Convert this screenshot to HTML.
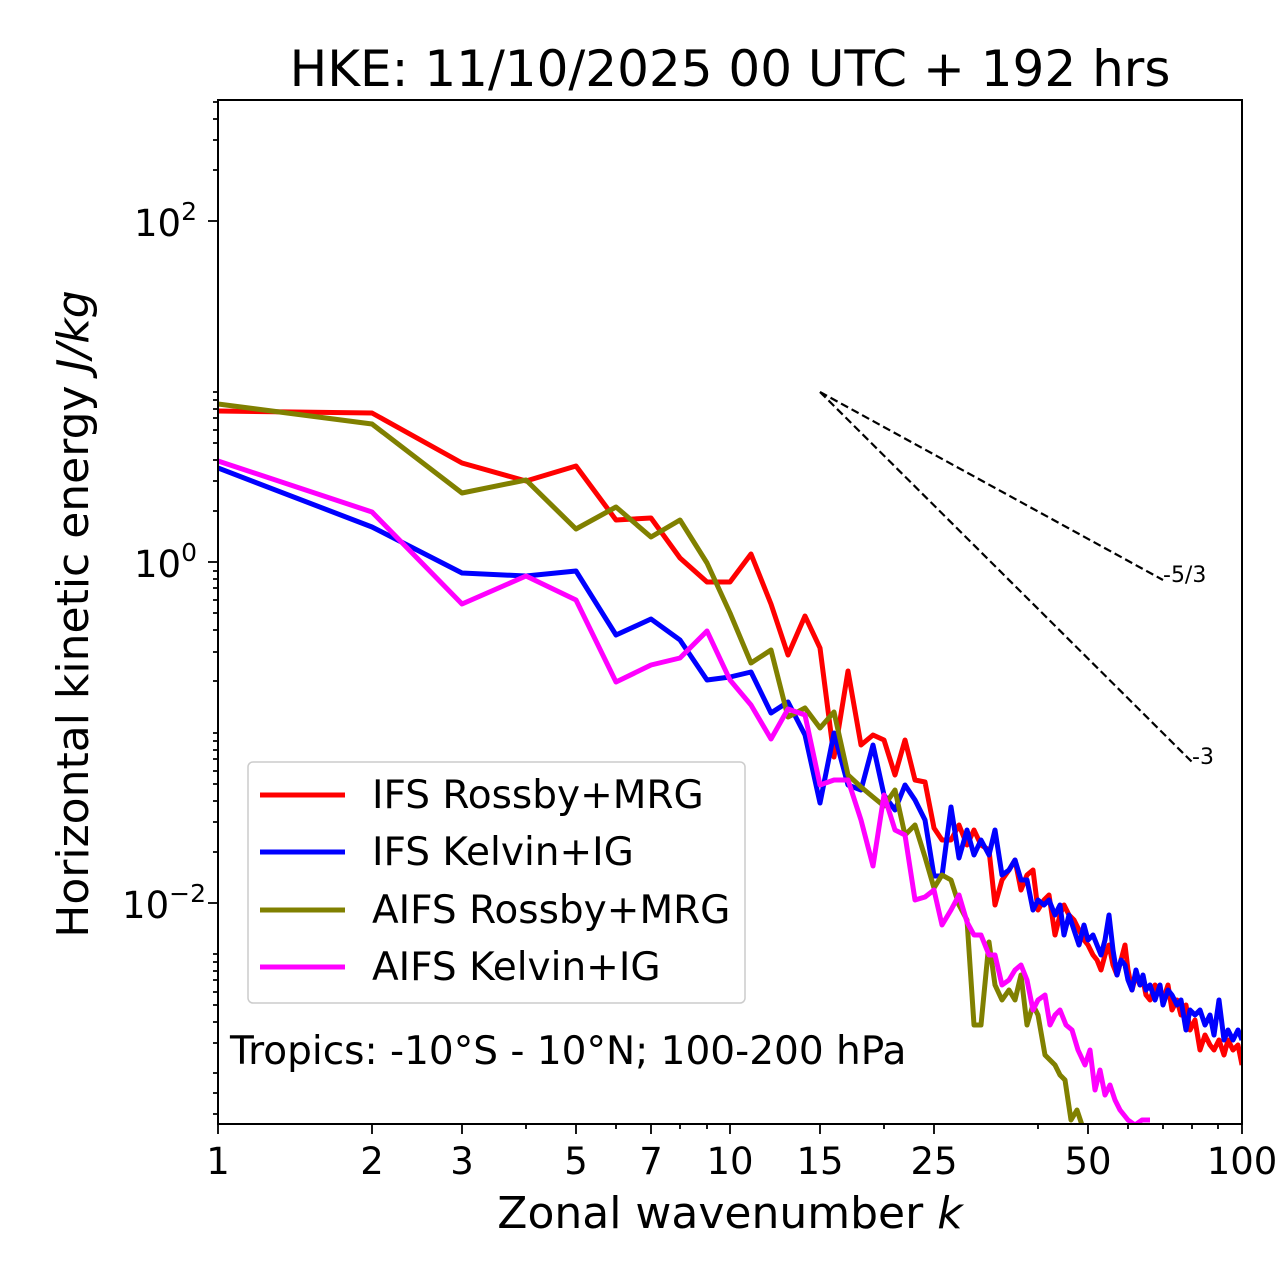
<!DOCTYPE html>
<html><head><meta charset="utf-8"><style>body{margin:0;background:#fff}svg{display:block}</style></head><body>
<svg width="1280" height="1288" xmlns="http://www.w3.org/2000/svg" font-family="DejaVu Sans, Liberation Sans, sans-serif">
<defs><clipPath id="c"><rect x="218" y="100" width="1024" height="1024"/></clipPath></defs>
<rect width="1280" height="1288" fill="#fff"/>
<text x="730" y="86" font-size="50" text-anchor="middle">HKE: 11/10/2025 00 UTC + 192 hrs</text>
<g clip-path="url(#c)" fill="none" stroke-width="5" stroke-linejoin="round">
<polyline stroke="#ff0000" points="218,411 372,413 462,463 526,481 576,466 616,520 651,518 680,558 707,582 730,582 751,554 771,604 788,655 805,616 820,648 834,757 848,671 861,745 873,735 884,740 895,775 905,740 915,780 925,782 934,828 942,840 951,840 959,825 967,845 974,830 981,845 989,850 995,905 1002,880 1009,870 1015,860 1021,890 1027,875 1033,870 1038,910 1044,900 1049,895 1055,935 1060,915 1064,905 1069,915 1074,920 1079,930 1084,940 1088,945 1093,955 1097,960 1101,970 1105,955 1109,945 1113,965 1117,975 1121,960 1125,945 1128,970 1132,990 1136,975 1140,985 1143,980 1146,995 1150,1000 1155,985 1160,990 1163,1000 1168,985 1172,1010 1177,1000 1181,1015 1186,1005 1190,1030 1195,1020 1200,1050 1205,1035 1210,1045 1214,1050 1219,1040 1224,1055 1228,1040 1233,1050 1238,1045 1242,1065"/>
<polyline stroke="#0000ff" points="218,468 372,527 462,573 526,576 576,571 616,635 651,619 680,640 707,680 730,677 751,672 771,713 788,702 805,735 820,803 834,733 848,785 861,790 873,745 884,795 895,810 905,785 915,800 925,820 934,876 942,876 951,807 959,858 967,830 974,855 981,840 989,855 995,830 1002,875 1009,870 1015,860 1021,880 1027,880 1033,910 1038,900 1044,905 1049,900 1055,915 1060,905 1064,935 1069,915 1074,930 1079,945 1084,925 1088,940 1093,935 1097,945 1101,955 1105,940 1109,915 1113,950 1117,975 1121,960 1125,965 1128,980 1132,990 1136,970 1140,985 1143,975 1146,990 1150,985 1155,1000 1160,985 1163,1005 1168,990 1172,995 1177,1005 1181,1000 1186,1030 1190,1010 1195,1015 1200,1010 1205,1025 1210,1015 1214,1035 1219,1000 1224,1040 1228,1030 1233,1040 1238,1030 1242,1040"/>
<polyline stroke="#808000" points="218,404 372,424 462,493 526,480 576,529 616,507 651,537 680,520 707,563 730,613 751,663 771,650 788,717 805,708 820,728 834,712 848,775 861,787 873,797 884,806 895,790 905,835 915,825 925,857 934,888 942,875 951,880 959,905 967,920 974,1025 981,1025 989,942 995,985 1002,1000 1009,990 1015,1000 1021,975 1027,1025 1033,1005 1038,1015 1045,1055 1055,1065 1060,1075 1065,1080 1071,1120 1077,1110 1082,1125"/>
<polyline stroke="#ff00ff" points="218,461 372,512 462,604 526,576 576,600 616,682 651,665 680,658 707,631 730,680 751,705 771,739 788,709 805,715 820,785 834,780 848,780 861,820 873,866 884,795 895,830 905,835 915,900 925,897 934,890 942,925 951,910 959,895 967,922 974,935 981,935 989,955 995,955 1002,985 1009,980 1015,970 1021,965 1027,980 1033,1010 1038,1000 1045,995 1050,1025 1055,1015 1060,1010 1066,1025 1072,1030 1078,1050 1085,1065 1090,1050 1095,1090 1100,1070 1105,1095 1110,1085 1115,1100 1120,1110 1128,1120 1135,1125 1142,1120 1150,1120"/>
</g>
<g stroke="#000" stroke-width="2.2" stroke-dasharray="8,4" fill="none">
<line x1="820" y1="392" x2="1163" y2="580"/><line x1="820" y1="392" x2="1192" y2="762"/></g>
<text x="1163" y="582" font-size="22">-5/3</text>
<text x="1192" y="764" font-size="22">-3</text>
<rect x="218" y="100" width="1024" height="1024" fill="none" stroke="#000" stroke-width="2"/>
<g stroke="#000" stroke-width="1.8">
<line x1="218" y1="221" x2="208" y2="221"/><line x1="218" y1="562" x2="208" y2="562"/><line x1="218" y1="903" x2="208" y2="903"/>
<path d="M218 1073h-5M218 1043h-5M218 1022h-5M218 1005h-5M218 992h-5M218 980h-5M218 971h-5M218 962h-5M218 954h-5
M218 852h-5M218 822h-5M218 801h-5M218 784h-5M218 771h-5M218 759h-5M218 750h-5M218 741h-5M218 733h-5
M218 511h-5M218 481h-5M218 460h-5M218 443h-5M218 430h-5M218 418h-5M218 409h-5M218 400h-5M218 392h-5
M218 170h-5M218 140h-5M218 119h-5M218 102h-5
M218 1114h-5M218 1093h-5M218 681h-5M218 652h-5M218 630h-5M218 613h-5M218 600h-5M218 588h-5M218 579h-5M218 571h-5"/>
<path d="M218 1124v10M372 1124v10M462 1124v10M576 1124v10M651 1124v10M730 1124v10M820 1124v10M934 1124v10M1088 1124v10M1242 1124v10
M526 1124v5M616 1124v5M680 1124v5M707 1124v5M884 1124v5M1038 1124v5M1128 1124v5M1163 1124v5M1192 1124v5M1218 1124v5"/>
</g>
<g font-size="37" text-anchor="middle">
<text x="218" y="1174">1</text><text x="372" y="1174">2</text><text x="462" y="1174">3</text><text x="576" y="1174">5</text><text x="651" y="1174">7</text><text x="730" y="1174">10</text><text x="820" y="1174">15</text><text x="934" y="1174">25</text><text x="1088" y="1174">50</text><text x="1242" y="1174">100</text>
</g>
<g font-size="37" text-anchor="end">
<text x="197" y="236">10<tspan font-size="25" dy="-16">2</tspan></text>
<text x="197" y="577">10<tspan font-size="25" dy="-16">0</tspan></text>
<text x="206" y="918">10<tspan font-size="25" dy="-16">−2</tspan></text>
</g>
<text x="730" y="1228" font-size="44" text-anchor="middle">Zonal wavenumber <tspan font-style="italic">k</tspan></text>
<text transform="translate(88,614) rotate(-90)" font-size="44" text-anchor="middle">Horizontal kinetic energy <tspan font-style="italic">J/kg</tspan></text>
<rect x="248" y="762" width="497" height="241" rx="5" fill="#fff" fill-opacity="0.85" stroke="#ccc" stroke-width="1.5"/>
<g stroke-width="5"><line x1="260" y1="795" x2="345" y2="795" stroke="#f00"/><line x1="260" y1="852" x2="345" y2="852" stroke="#00f"/><line x1="260" y1="910" x2="345" y2="910" stroke="#808000"/><line x1="260" y1="967" x2="345" y2="967" stroke="#f0f"/></g>
<g font-size="39"><text x="372" y="808">IFS Rossby+MRG</text><text x="372" y="865">IFS Kelvin+IG</text><text x="372" y="923">AIFS Rossby+MRG</text><text x="372" y="980">AIFS Kelvin+IG</text></g>
<text x="230" y="1064" font-size="39">Tropics: -10°S - 10°N; 100-200 hPa</text>
</svg>
</body></html>
